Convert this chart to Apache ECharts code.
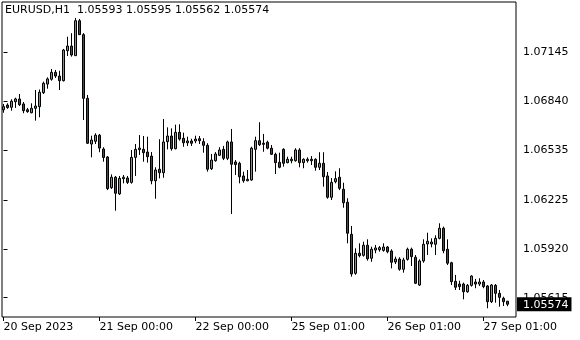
<!DOCTYPE html>
<html><head><meta charset="utf-8">
<script src="https://cdn.jsdelivr.net/npm/echarts@6/dist/echarts.min.js"></script>
<style>html,body{margin:0;padding:0;background:#fff}#c{width:580px;height:340px}</style>
</head><body><div id="c"></div>
<script>
const symbolName = 'EURUSD,H1';
const open = [1.06787,1.06816,1.06802,1.06837,1.06854,1.06823,1.06787,1.06768,1.06796,1.06806,
1.06893,1.06947,1.06977,1.07020,1.06997,1.06968,1.07155,1.07184,1.07124,1.07342,
1.07255,1.06858,1.06573,1.06590,1.06628,1.06542,1.06492,1.06301,1.06366,1.06262,
1.06357,1.06361,1.06334,1.06490,1.06538,1.06540,1.06523,1.06498,1.06344,1.06416,
1.06394,1.06588,1.06623,1.06544,1.06646,1.06609,1.06581,1.06592,1.06592,1.06606,
1.06588,1.06565,1.06419,1.06469,1.06503,1.06540,1.06484,1.06586,1.06461,1.06453,
1.06374,1.06344,1.06349,1.06540,1.06594,1.06578,1.06584,1.06547,1.06509,1.06459,
1.06540,1.06457,1.06469,1.06469,1.06536,1.06457,1.06469,1.06478,1.06478,1.06428,
1.06453,1.06374,1.06241,1.06338,1.06366,1.06291,1.06210,1.06010,1.05767,1.05892,
1.05879,1.05942,1.05861,1.05912,1.05914,1.05910,1.05931,1.05906,1.05838,1.05856,
1.05792,1.05854,1.05917,1.05867,1.05694,1.05844,1.05950,1.05950,1.05948,1.05985,
1.06048,1.05917,1.05833,1.05717,1.05700,1.05700,1.05652,1.05692,1.05713,1.05700,
1.05713,1.05688,1.05590,1.05692,1.05642,1.05611,1.05593];
const close = [1.06806,1.06800,1.06840,1.06854,1.06818,1.06781,1.06775,1.06796,1.06810,1.06896,
1.06952,1.06979,1.07020,1.06997,1.06968,1.07159,1.07184,1.07128,1.07342,1.07255,
1.06858,1.06578,1.06598,1.06628,1.06548,1.06489,1.06295,1.06366,1.06266,1.06359,
1.06366,1.06334,1.06490,1.06540,1.06548,1.06519,1.06494,1.06344,1.06411,1.06394,
1.06586,1.06623,1.06544,1.06646,1.06604,1.06581,1.06592,1.06578,1.06604,1.06594,
1.06565,1.06416,1.06473,1.06511,1.06536,1.06484,1.06586,1.06447,1.06445,1.06369,
1.06344,1.06353,1.06547,1.06594,1.06569,1.06571,1.06547,1.06509,1.06457,1.06428,
1.06453,1.06478,1.06478,1.06536,1.06457,1.06478,1.06478,1.06469,1.06428,1.06453,
1.06369,1.06241,1.06334,1.06357,1.06297,1.06207,1.06017,1.05763,1.05892,1.05877,
1.05942,1.05858,1.05917,1.05925,1.05927,1.05931,1.05902,1.05836,1.05856,1.05792,
1.05850,1.05917,1.05871,1.05705,1.05844,1.05948,1.05967,1.05962,1.05985,1.06048,
1.05908,1.05830,1.05715,1.05680,1.05684,1.05652,1.05692,1.05750,1.05700,1.05713,
1.05684,1.05590,1.05694,1.05642,1.05617,1.05590,1.05574];
const low = [1.06768,1.06793,1.06781,1.06798,1.06810,1.06765,1.06768,1.06765,1.06719,1.06740,
1.06885,1.06918,1.06968,1.06985,1.06910,1.06963,1.07122,1.07118,1.07122,1.07253,
1.06723,1.06573,1.06490,1.06573,1.06522,1.06463,1.06286,1.06293,1.06157,1.06255,
1.06328,1.06324,1.06326,1.06374,1.06505,1.06463,1.06457,1.06322,1.06232,1.06359,
1.06363,1.06540,1.06532,1.06540,1.06594,1.06556,1.06561,1.06561,1.06578,1.06573,
1.06519,1.06401,1.06411,1.06463,1.06498,1.06473,1.06473,1.06137,1.06380,1.06328,
1.06332,1.06341,1.06344,1.06401,1.06561,1.06525,1.06540,1.06505,1.06386,1.06422,
1.06432,1.06453,1.06453,1.06463,1.06428,1.06422,1.06457,1.06442,1.06407,1.06411,
1.06307,1.06232,1.06224,1.06328,1.06286,1.06176,1.05954,1.05746,1.05758,1.05867,
1.05871,1.05846,1.05839,1.05892,1.05902,1.05902,1.05892,1.05798,1.05825,1.05783,
1.05771,1.05846,1.05813,1.05700,1.05688,1.05833,1.05881,1.05929,1.05881,1.05979,
1.05892,1.05819,1.05694,1.05663,1.05663,1.05605,1.05646,1.05684,1.05674,1.05688,
1.05674,1.05549,1.05582,1.05584,1.05559,1.05563,1.05562];
const high = [1.06823,1.06827,1.06852,1.06862,1.06885,1.06835,1.06798,1.06827,1.06910,1.06913,
1.06962,1.06989,1.07041,1.07035,1.07030,1.07166,1.07242,1.07264,1.07359,1.07353,
1.07265,1.06879,1.06625,1.06640,1.06636,1.06553,1.06498,1.06384,1.06374,1.06374,
1.06380,1.06374,1.06536,1.06573,1.06629,1.06623,1.06619,1.06523,1.06428,1.06603,
1.06729,1.06677,1.06671,1.06694,1.06696,1.06644,1.06619,1.06606,1.06625,1.06623,
1.06609,1.06578,1.06511,1.06523,1.06553,1.06561,1.06594,1.06667,1.06473,1.06463,
1.06401,1.06411,1.06556,1.06619,1.06709,1.06636,1.06594,1.06567,1.06519,1.06519,
1.06547,1.06494,1.06494,1.06547,1.06547,1.06484,1.06490,1.06498,1.06484,1.06522,
1.06522,1.06399,1.06361,1.06403,1.06422,1.06332,1.06235,1.06062,1.05923,1.05954,
1.05964,1.05979,1.05933,1.05944,1.05937,1.05954,1.05937,1.05917,1.05871,1.05867,
1.05864,1.05927,1.05927,1.05881,1.05854,1.05979,1.06020,1.05985,1.06004,1.06079,
1.06058,1.05979,1.05839,1.05757,1.05721,1.05709,1.05700,1.05755,1.05732,1.05736,
1.05725,1.05694,1.05700,1.05700,1.05663,1.05621,1.05595];
const timeLabels = ['20 Sep 2023','21 Sep 00:00','22 Sep 00:00','25 Sep 01:00','26 Sep 01:00','27 Sep 01:00'];
const labelBars = [0,24,48,72,96,120];
const priceTicks = [1.05615,1.05920,1.06225,1.06535,1.06840,1.07145];

const last = close.length - 1;
const lastPrice = close[last];
const candles = open.map((o,i)=>[i,o,close[i],low[i],high[i]]);
const FONT = 'DejaVu Sans';
const chart = echarts.init(document.getElementById('c'), null, {renderer:'canvas'});
chart.setOption({
  animation:false,
  textStyle:{fontFamily:FONT},
  title:{
    text: symbolName + '  ' + [open[last],high[last],low[last],close[last]].map(v=>v.toFixed(5)).join(' '),
    left:5, top:5, padding:0,
    textStyle:{fontSize:11,fontWeight:'normal',color:'#000',fontFamily:FONT}
  },
  grid:{left:2,right:64,top:2,bottom:23,show:true,borderColor:'#000',borderWidth:1,backgroundColor:'transparent'},
  xAxis:{
    type:'value', min:-0.375, max:128.125,
    splitLine:{show:false}, axisLine:{show:false},
    axisTick:{show:true,length:4,customValues:labelBars,lineStyle:{color:'#000'}},
    axisLabel:{customValues:labelBars, formatter:v=>timeLabels[labelBars.indexOf(v)], align:'left', margin:5, color:'#000', fontSize:11, fontFamily:FONT}
  },
  yAxis:{
    type:'value', position:'right', min:1.054946, max:1.074586,
    splitLine:{show:false}, axisLine:{show:false},
    axisTick:{show:true,length:4,customValues:priceTicks,lineStyle:{color:'#000'}},
    axisLabel:{
      customValues:priceTicks.concat([lastPrice]), margin:1, color:'#000', fontSize:11, fontFamily:FONT,
      formatter:v=> v===lastPrice ? '{cur|'+v.toFixed(5)+'}' : '{n|'+v.toFixed(5)+'}',
      rich:{
        n:{padding:[0,0,0,6],color:'#000',fontSize:11,fontFamily:FONT},
        cur:{padding:[2,3,1,6],backgroundColor:'#000',color:'#fff',fontSize:11,fontFamily:FONT}
      }
    }
  },
  series:[{
    type:'candlestick', data:candles, barWidth:2,
    itemStyle:{color:'#14dc14',color0:'#d01010',borderColor:'#000',borderColor0:'#000',borderColorDoji:'#000',borderWidth:1}
  }]
});
</script></body></html>
